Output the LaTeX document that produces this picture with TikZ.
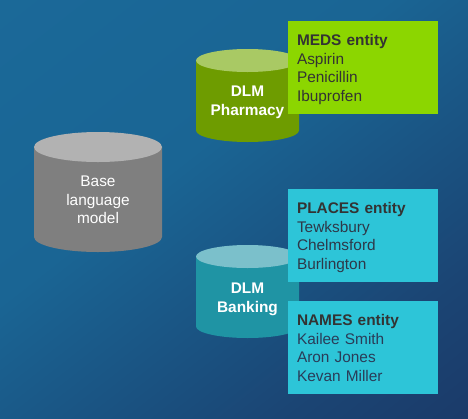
\documentclass[tikz,border=0pt]{standalone}
\usepackage{fontspec}
\setmainfont{Liberation Sans}
\definecolor{bgA}{HTML}{1B6B9B}
\definecolor{bgB}{HTML}{1A6594}
\definecolor{bgC}{HTML}{1B2F5E}
\definecolor{medsgreen}{HTML}{8CD600}
\definecolor{boxcyan}{HTML}{2DC5D8}
\definecolor{inkdark}{HTML}{333333}
\definecolor{inkmid}{HTML}{2E3848}
\definecolor{inknavy}{HTML}{2A3C58}
\definecolor{greyBody}{HTML}{7F7F7F}
\definecolor{greyTop}{HTML}{B2B2B2}
\definecolor{greenBody}{HTML}{6E9C00}
\definecolor{greenTop}{HTML}{A9C964}
\definecolor{tealBody}{HTML}{1F94A4}
\definecolor{tealTop}{HTML}{7BC0CB}
\pgfdeclareverticalshading{bgshade}{100bp}{color(0bp)=(bgC); color(28bp)=(bgC!60!bgB); color(58bp)=(bgB); color(100bp)=(bgA)}
\newcommand{\firstline}{\rule{0pt}{15.5pt}}
\newcommand{\lastline}{\rule[-3.3pt]{0pt}{3.3pt}}
\tikzset{
  txt/.style={font=\fontsize{15.4}{18.6}\selectfont},
  boldtxt/.style={font=\fontsize{15.4}{18.6}\selectfont\bfseries},
  drumlabel/.style={text=white, align=center, inner sep=0pt},
  entity/.style={rectangle, minimum width=150, minimum height=93, text width=132, inner sep=0pt,
    align=left, txt, text=inkdark},
}
\begin{document}
\begin{tikzpicture}[x=1pt,y=-1pt]
\useasboundingbox (0,0) rectangle (468,418);
\shade[shading=bgshade, shading angle=38] (0,0) rectangle (468,418);
% base cylinder
\fill[greyBody] (34,147) -- (34,237) arc (180:360:64pt and 15pt) -- (162,147) -- cycle;
\fill[greyTop] (98,147) ellipse (64pt and 15pt);
\node[txt, drumlabel] (basetext) at (98,200) {Base\\language\\model};
% pharmacy cylinder
\fill[greenBody] (196,60.5) -- (196,130.5) arc (180:360:51.5pt and 11.5pt) -- (299,60.5) -- cycle;
\fill[greenTop] (247.5,60.5) ellipse (51.5pt and 11.5pt);
\node[boldtxt, drumlabel] (pharmtext) at (247.5,102.5) {DLM\\Pharmacy};
% banking cylinder
\fill[tealBody] (196,256.5) -- (196,326.5) arc (180:360:51.5pt and 11.5pt) -- (299,256.5) -- cycle;
\fill[tealTop] (247.5,256.5) ellipse (51.5pt and 11.5pt);
\node[boldtxt, drumlabel] (banktext) at (247.5,299.5) {DLM\\Banking};
\node[entity, fill=medsgreen] (meds) at (363,67.5) {\firstline\textbf{MEDS entity}\\Aspirin\\Penicillin\\Ibuprofen\lastline};
\node[entity, fill=boxcyan, text=inkmid] (places) at (363,235.5) {\firstline\textcolor{inkdark}{\textbf{PLACES entity}}\\Tewksbury\\Chelmsford\\Burlington\lastline};
\node[entity, fill=boxcyan, text=inknavy] (names) at (363,347.5) {\firstline\textcolor{inkdark}{\textbf{NAMES entity}}\\Kailee Smith\\Aron Jones\\Kevan Miller\lastline};
\end{tikzpicture}
\end{document}
